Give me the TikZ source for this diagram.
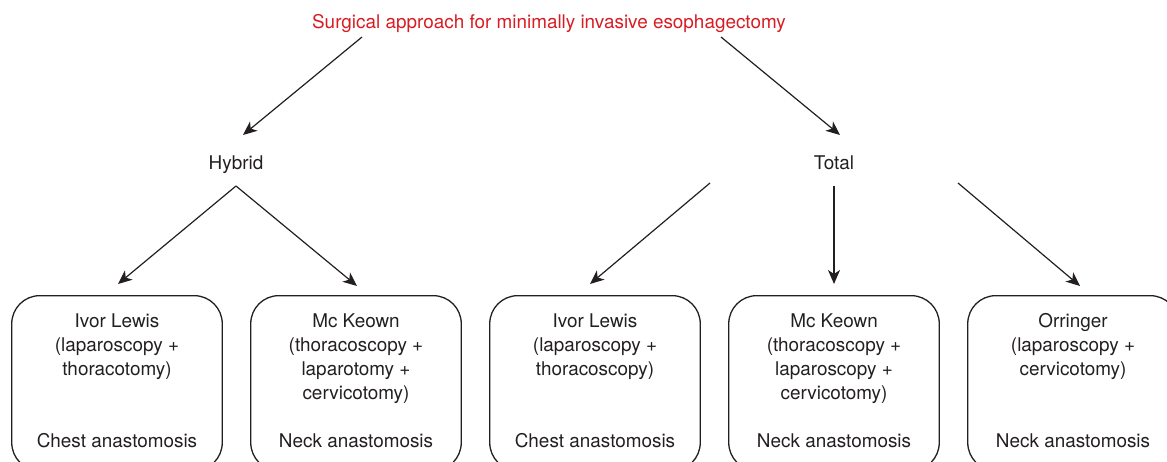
\documentclass[tikz,border=0pt]{standalone}
\usepackage{fontspec}
\setmainfont{TeX Gyre Heros}
\usetikzlibrary{arrows.meta,positioning,calc}
\definecolor{MIEred}{RGB}{216,28,36}
\definecolor{MIEgray}{HTML}{231F20}

\begin{document}
\begin{tikzpicture}[x=1pt, y=-1pt,
    every node/.style={font=\fontsize{18.9}{24}\selectfont, text=MIEgray, inner sep=0pt},
    arr/.style={line width=1.2pt, draw=MIEgray, -{Stealth[length=14pt,width=12pt,inset=4pt]}},
    box/.style={draw=MIEgray, line width=1.3pt, rounded corners=28pt, minimum width=210.5pt, minimum height=175pt, anchor=north}]
    \useasboundingbox (0,0) rectangle (1167,461);
    \clip (0,0) rectangle (1167,461);

    % levels
    \node[anchor=base, text=MIEred] (title) at (549,28) {Surgical approach for minimally invasive esophagectomy};
    \node[anchor=base] (hyb) at (236,169) {Hybrid};
    \node[anchor=base] (tot) at (834,169) {Total};

    % boxes
    \foreach \i/\x/\upper/\lower in {
        1/117/{Ivor Lewis\\(laparoscopy +\\thoracotomy)}/Chest anastomosis,
        2/356/{Mc Keown\\(thoracoscopy +\\laparotomy +\\cervicotomy)}/Neck anastomosis,
        3/595/{Ivor Lewis\\(laparoscopy +\\thoracoscopy)}/Chest anastomosis,
        4/834/{Mc Keown\\(thoracoscopy +\\laparoscopy +\\cervicotomy)}/Neck anastomosis,
        5/1073/{Orringer\\(laparoscopy +\\cervicotomy)}/Neck anastomosis
    }{
        \node[box] (box\i) at (\x,295) {};
        \node[anchor=north, align=center] (up\i) at (\x,313.6) {\upper};
        \node[anchor=base] (low\i) at (\x,447) {\lower};
    }

    % arrow ends
    \coordinate (title-l) at (362,37);
    \coordinate (title-r) at (721,37);
    \coordinate (hyb-in) at (243,135);
    \coordinate (tot-in) at (840,135);
    \coordinate (hyb-out) at (236,186);
    \coordinate (tot-l) at (710,183);
    \coordinate (tot-c) at (834,186);
    \coordinate (tot-r) at (958,183);

    \draw[arr] (title-l) -- (hyb-in);
    \draw[arr] (title-r) -- (tot-in);
    \draw[arr] (hyb-out) -- ([xshift=1pt,yshift=11pt]box1.north);
    \draw[arr] (hyb-out) -- ([xshift=1pt,yshift=9pt]box2.north);
    \draw[arr] (tot-l) -- ([xshift=-5pt,yshift=11pt]box3.north);
    \draw[arr] (tot-c) -- ([yshift=11pt]box4.north);
    \draw[arr] (tot-r) -- ([xshift=7pt,yshift=9pt]box5.north);
\end{tikzpicture}
\end{document}
